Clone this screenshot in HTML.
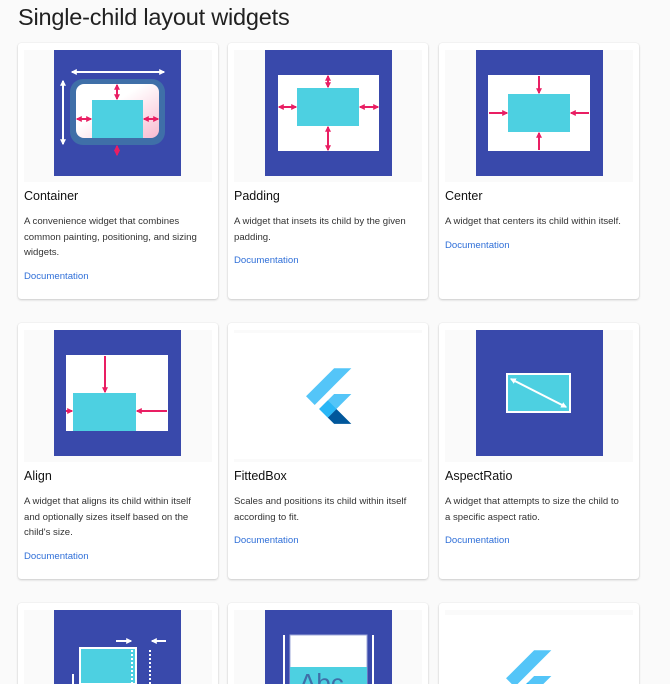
<!DOCTYPE html>
<html><head><meta charset="utf-8"><style>
html,body{margin:0;padding:0;background:#fafafa;width:670px;height:684px;overflow:hidden;font-family:"Liberation Sans",sans-serif;position:relative}
h1{position:absolute;left:18px;top:4px;margin:0;font-size:23.5px;font-weight:normal;color:#212121;letter-spacing:-0.2px}
.card{position:absolute;width:200px;height:256px;background:#fff;border-radius:3px;box-shadow:0 1px 2px rgba(0,0,0,.18),0 0 1px rgba(0,0,0,.12);overflow:hidden}
.img{position:absolute;left:6px;top:7px;width:188px;height:132px;background:#fafafa}
.t{position:absolute;left:6px;top:146px;font-size:12.5px;color:#111}
.d{position:absolute;left:6px;top:171px;width:180px;font-size:9.6px;line-height:15.5px;color:#333}
.l{font-size:9.6px;color:#2f6fd8;margin-top:8px}
svg.o{position:absolute;left:0;top:0}
</style></head><body>
<h1>Single-child layout widgets</h1>

<div class="card" style="left:18px;top:43px"><div class="img"></div><div class="t">Container</div><div class="d">A convenience widget that combines common painting, positioning, and sizing widgets.<div class="l">Documentation</div></div></div>
<div class="card" style="left:228px;top:43px"><div class="img"></div><div class="t">Padding</div><div class="d">A widget that insets its child by the given padding.<div class="l">Documentation</div></div></div>
<div class="card" style="left:439px;top:43px"><div class="img"></div><div class="t">Center</div><div class="d">A widget that centers its child within itself.<div class="l">Documentation</div></div></div>

<div class="card" style="left:18px;top:323px"><div class="img"></div><div class="t">Align</div><div class="d">A widget that aligns its child within itself and optionally sizes itself based on the child's size.<div class="l">Documentation</div></div></div>
<div class="card" style="left:228px;top:323px"><div class="img" style="background:#fff;border-top:3px solid #fafafa;border-bottom:3px solid #fafafa;height:126px"></div><div class="t">FittedBox</div><div class="d">Scales and positions its child within itself according to fit.<div class="l">Documentation</div></div></div>
<div class="card" style="left:439px;top:323px"><div class="img"></div><div class="t">AspectRatio</div><div class="d">A widget that attempts to size the child to a specific aspect ratio.<div class="l">Documentation</div></div></div>

<div class="card" style="left:18px;top:603px"><div class="img"></div></div>
<div class="card" style="left:228px;top:603px"><div class="img"></div></div>
<div class="card" style="left:439px;top:603px"><div class="img" style="height:5px"></div></div>

<svg class="o" width="670" height="684" viewBox="0 0 670 684">
<defs>
<marker id="p" viewBox="0 0 10 10" refX="8" refY="5" markerWidth="3" markerHeight="3" orient="auto-start-reverse"><path d="M0 0L10 5L0 10z" fill="#e91e63"/></marker>
<marker id="w" viewBox="0 0 10 10" refX="8" refY="5" markerWidth="3" markerHeight="3" orient="auto-start-reverse"><path d="M0 0L10 5L0 10z" fill="#fff"/></marker>
<linearGradient id="g" x1="0" y1="0" x2="1" y2="1"><stop offset="0.4" stop-color="#fff"/><stop offset="1" stop-color="#f8bbd0"/></linearGradient>
<g id="fl">
<path fill="#54C5F8" d="M37.7 128.9 9.8 101 100.4 10.4h55.5z"/>
<path fill="#54C5F8" d="M155.9 93.5h-55.5l-48.4 48.4 27.9 27.9z"/>
<path fill="#01579B" d="M79.9 169.8 107.8 141.9 155.9 190h-55.5z"/>
<path fill="#29B6F6" d="M52 141.9 79.9 114 107.8 141.9 79.9 169.8z"/>
</g>
</defs>
<g stroke-width="2" fill="none">
<rect x="54" y="50" width="127" height="126" fill="#3949ab"/>
<line x1="72" y1="72" x2="164" y2="72" stroke="#fff" marker-start="url(#w)" marker-end="url(#w)"/>
<line x1="63" y1="81" x2="63" y2="144" stroke="#fff" marker-start="url(#w)" marker-end="url(#w)"/>
<rect x="70" y="79" width="95" height="66" rx="13" fill="#3f6fa8"/>
<rect x="76" y="84" width="83" height="54" rx="8" fill="url(#g)"/>
<rect x="92" y="100" width="51" height="38" fill="#4dd0e1"/>
<line x1="117" y1="85" x2="117" y2="99" stroke="#e91e63" marker-start="url(#p)" marker-end="url(#p)"/>
<line x1="117" y1="146" x2="117" y2="155" stroke="#e91e63" marker-start="url(#p)" marker-end="url(#p)"/>
<line x1="77" y1="119" x2="91" y2="119" stroke="#e91e63" marker-start="url(#p)" marker-end="url(#p)"/>
<line x1="144" y1="119" x2="158" y2="119" stroke="#e91e63" marker-start="url(#p)" marker-end="url(#p)"/>
<rect x="265" y="50" width="127" height="126" fill="#3949ab"/>
<rect x="278" y="75" width="101" height="76" fill="#fff"/>
<rect x="297" y="88" width="62" height="38" fill="#4dd0e1"/>
<line x1="328" y1="76" x2="328" y2="87" stroke="#e91e63" marker-start="url(#p)" marker-end="url(#p)"/>
<line x1="328" y1="127" x2="328" y2="150" stroke="#e91e63" marker-start="url(#p)" marker-end="url(#p)"/>
<line x1="279" y1="107" x2="296" y2="107" stroke="#e91e63" marker-start="url(#p)" marker-end="url(#p)"/>
<line x1="360" y1="107" x2="378" y2="107" stroke="#e91e63" marker-start="url(#p)" marker-end="url(#p)"/>
<rect x="476" y="50" width="127" height="126" fill="#3949ab"/>
<rect x="488" y="75" width="102" height="76" fill="#fff"/>
<rect x="508" y="94" width="62" height="38" fill="#4dd0e1"/>
<line x1="539" y1="76" x2="539" y2="93" stroke="#e91e63" marker-end="url(#p)"/>
<line x1="539" y1="150" x2="539" y2="133" stroke="#e91e63" marker-end="url(#p)"/>
<line x1="489" y1="113" x2="507" y2="113" stroke="#e91e63" marker-end="url(#p)"/>
<line x1="589" y1="113" x2="571" y2="113" stroke="#e91e63" marker-end="url(#p)"/>
<rect x="54" y="330" width="127" height="126" fill="#3949ab"/>
<rect x="66" y="355" width="102" height="76" fill="#fff"/>
<rect x="73" y="393" width="63" height="38" fill="#4dd0e1"/>
<line x1="105" y1="356" x2="105" y2="392" stroke="#e91e63" marker-end="url(#p)"/>
<line x1="167" y1="411" x2="137" y2="411" stroke="#e91e63" marker-end="url(#p)"/>
<line x1="66" y1="411" x2="72" y2="411" stroke="#e91e63" marker-end="url(#p)"/>
<rect x="476" y="330" width="127" height="126" fill="#3949ab"/>
<rect x="507" y="374" width="63" height="38" fill="#4dd0e1" stroke="#fff" stroke-width="2"/>
<line x1="511" y1="379" x2="566" y2="407" stroke="#fff" marker-start="url(#w)" marker-end="url(#w)"/>
<rect x="54" y="610" width="127" height="74" fill="#3949ab"/>
<rect x="80" y="648" width="56" height="36" fill="#4dd0e1" stroke="#fff" stroke-width="2"/>
<line x1="132" y1="650" x2="132" y2="684" stroke="#fff" stroke-dasharray="2 2"/>
<line x1="150" y1="650" x2="150" y2="684" stroke="#fff" stroke-dasharray="2 2"/>
<line x1="116" y1="641" x2="131" y2="641" stroke="#fff" marker-end="url(#w)"/>
<line x1="166" y1="641" x2="152" y2="641" stroke="#fff" marker-end="url(#w)"/>
<line x1="73" y1="674" x2="73" y2="684" stroke="#fff"/>
<rect x="265" y="610" width="127" height="74" fill="#3949ab"/>
<line x1="284" y1="635" x2="284" y2="684" stroke="#fff"/>
<line x1="373" y1="635" x2="373" y2="684" stroke="#fff"/>
<rect x="290" y="635" width="77" height="49" fill="#fff" stroke="#9fa8da" stroke-width="1"/>
<rect x="290" y="667" width="77" height="17" fill="#4dd0e1"/>
<text x="299" y="692" font-family="Liberation Sans, sans-serif" font-size="26" fill="#3f6fa8" stroke="none">Abc</text>
</g>
<use href="#fl" transform="translate(303,365) scale(0.31)"/>
<use href="#fl" transform="translate(503,647) scale(0.31)"/>
</svg>
</body></html>
